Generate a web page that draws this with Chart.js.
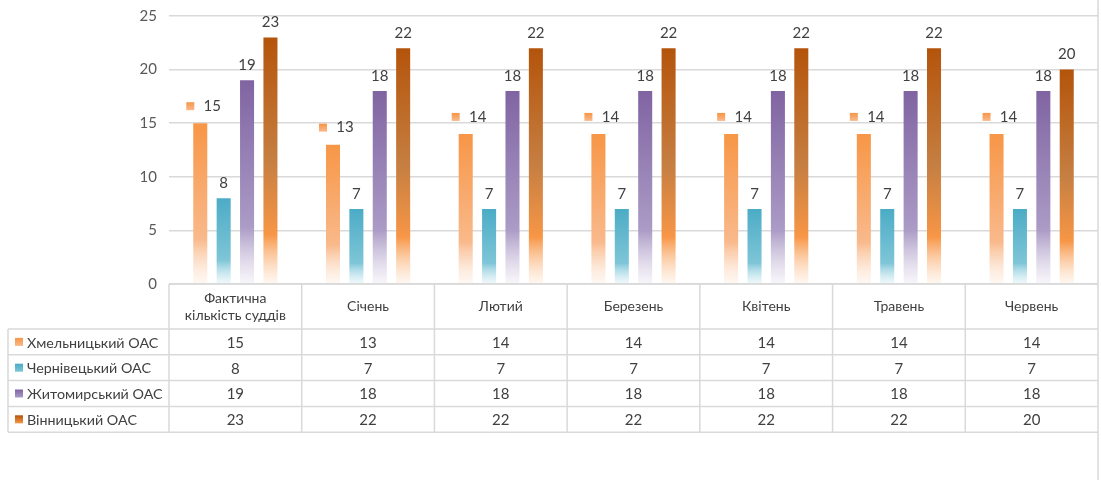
<!DOCTYPE html>
<html>
<head>
<meta charset="utf-8">
<script src="https://cdn.jsdelivr.net/npm/chart.js@4/dist/chart.umd.min.js"></script>
<style>
  body { margin: 0; background: #fff; }
  #wrap { width: 1101px; height: 480px; }
</style>
</head>
<body>
<div id="wrap"><canvas id="judgesChart" width="1101" height="480"></canvas></div>
<script>
const categories = [['Фактична', 'кількість суддів'], 'Січень', 'Лютий', 'Березень', 'Квітень', 'Травень', 'Червень'];
const seriesNames = ['Хмельницький ОАС', 'Чернівецький ОАС', 'Житомирський ОАС', 'Вінницький ОАС'];
const khmelnytskyi = [15, 13, 14, 14, 14, 14, 14];
const chernivtsi = [8, 7, 7, 7, 7, 7, 7];
const zhytomyr = [19, 18, 18, 18, 18, 18, 18];
const vinnytsia = [23, 22, 22, 22, 22, 22, 20];
const yTicks = [0, 5, 10, 15, 20, 25];

const FONT = 'Lato, "Liberation Sans", sans-serif';
const TEXT = '#404040';
const LINE = '#d9d9d9';

// gradient stops per series: top colour -> lighter -> almost white at the base
const stops = [
    [[0, '#f79646'], [0.72, '#f9b98b'], [1, 'rgba(253,236,222,0.35)']],
    [[0, '#4bacc6'], [0.72, '#7ec5d7'], [1, 'rgba(222,241,246,0.45)']],
    [[0, '#8064a2'], [0.72, '#ab9bc6'], [1, 'rgba(243,240,247,0.6)']],
    [[0, '#b4540b'], [0.5, '#c67f42'], [0.8, '#f79646'], [1, 'rgba(255,240,228,0.5)']]
];

function barGradient(i) {
    return (ctx) => {
        const chart = ctx.chart;
        if (!chart.chartArea || ctx.raw === undefined) return stops[i][0][1];
        const y = chart.scales.y;
        const top = y.getPixelForValue(ctx.raw);
        const base = y.getPixelForValue(0);
        const g = chart.ctx.createLinearGradient(0, top, 0, base);
        stops[i].forEach(s => g.addColorStop(s[0], s[1]));
        return g;
    };
}

function keyGradient(ctx, i, x, y, s) {
    const g = ctx.createLinearGradient(0, y, 0, y + s);
    g.addColorStop(0, stops[i][0][1]);
    g.addColorStop(1, stops[i][stops[i].length - 2][1]);
    return g;
}

const valueLabels = {
    id: 'valueLabels',
    afterDatasetsDraw(chart) {
        const ctx = chart.ctx;
        ctx.save();
        ctx.font = '15px ' + FONT;
        ctx.fillStyle = TEXT;
        ctx.textBaseline = 'middle';
        chart.data.datasets.forEach((ds, i) => {
            chart.getDatasetMeta(i).data.forEach((bar, j) => {
                const v = ds.data[j];
                if (i === 0) {
                    const ky = bar.y - 21;
                    ctx.fillStyle = keyGradient(ctx, 0, bar.x - 14, ky, 8);
                    ctx.fillRect(bar.x - 14, ky, 8, 8);
                    ctx.fillStyle = TEXT;
                    ctx.textAlign = 'center';
                    ctx.fillText(v, bar.x + 12, bar.y - 17);
                } else {
                    ctx.textAlign = 'center';
                    ctx.fillText(v, bar.x, bar.y - 15);
                }
            });
        });
        ctx.restore();
    }
};

const dataTable = {
    id: 'dataTable',
    afterDraw(chart) {
        const ctx = chart.ctx;
        const area = chart.chartArea;
        const x = chart.scales.x;
        const n = categories.length;
        const colW = (area.right - area.left) / n;
        const headTop = area.bottom;
        const headBottom = headTop + 45;
        const rowH = 25.8;
        const tableBottom = headBottom + rowH * seriesNames.length;
        const legendLeft = 8;

        ctx.save();
        ctx.strokeStyle = LINE;
        ctx.lineWidth = 1.5;
        ctx.beginPath();
        // horizontal lines
        ctx.moveTo(area.left, headTop); ctx.lineTo(area.right, headTop);
        for (let r = 0; r <= seriesNames.length; r++) {
            const yy = headBottom + r * rowH;
            ctx.moveTo(legendLeft, yy); ctx.lineTo(area.right, yy);
        }
        // vertical lines
        for (let c = 0; c <= n; c++) {
            const xx = area.left + c * colW;
            ctx.moveTo(xx, headTop); ctx.lineTo(xx, tableBottom);
        }
        ctx.moveTo(legendLeft, headBottom); ctx.lineTo(legendLeft, tableBottom);
        // outer right border of the picture
        ctx.moveTo(area.right, 0); ctx.lineTo(area.right, chart.height);
        ctx.stroke();

        ctx.fillStyle = TEXT;
        ctx.textAlign = 'center';
        ctx.textBaseline = 'middle';
        ctx.font = '14px ' + FONT;
        categories.forEach((c, j) => {
            const cx = x.getPixelForValue(j);
            const lines = Array.isArray(c) ? c : [c];
            const mid = (headTop + headBottom) / 2;
            lines.forEach((t, k) => {
                ctx.fillText(t, cx, mid + (k - (lines.length - 1) / 2) * 17);
            });
        });

        const series = [khmelnytskyi, chernivtsi, zhytomyr, vinnytsia];
        series.forEach((vals, r) => {
            const cy = headBottom + r * rowH + rowH / 2;
            ctx.font = '15px ' + FONT;
            vals.forEach((v, j) => {
                ctx.textAlign = 'center';
                ctx.fillText(v, x.getPixelForValue(j), cy + 1);
            });
            ctx.fillStyle = keyGradient(ctx, r, 14, cy - 4, 8);
            ctx.fillRect(15, cy - 4, 8, 8);
            ctx.fillStyle = TEXT;
            ctx.textAlign = 'left';
            ctx.font = '14.3px ' + FONT;
            ctx.fillText(seriesNames[r], 27, cy + 1);
        });
        ctx.restore();
    }
};

const seriesData = [khmelnytskyi, chernivtsi, zhytomyr, vinnytsia];

new Chart(document.getElementById('judgesChart'), {
    type: 'bar',
    data: {
        labels: categories,
        datasets: seriesData.map((d, i) => ({
            label: seriesNames[i],
            data: d,
            backgroundColor: barGradient(i),
            borderWidth: 0,
            categoryPercentage: 0.705,
            barPercentage: 0.6
        }))
    },
    options: {
        responsive: false,
        animation: false,
        layout: { padding: { top: 16, right: 3, bottom: 196, left: 0 } },
        plugins: { legend: { display: false }, tooltip: { enabled: false } },
        scales: {
            x: { display: false },
            y: {
                min: 0, max: 25,
                afterBuildTicks: (s) => { s.ticks = yTicks.map(v => ({ value: v })); },
                afterFit: (s) => { s.width = 169; s.paddingTop = 0; s.paddingBottom = 0; },
                ticks: { color: '#595959', padding: 12, font: { family: FONT, size: 15 } },
                grid: { color: LINE, lineWidth: 1.5, drawTicks: false },
                border: { display: false }
            }
        }
    },
    plugins: [valueLabels, dataTable]
});
</script>
</body>
</html>
